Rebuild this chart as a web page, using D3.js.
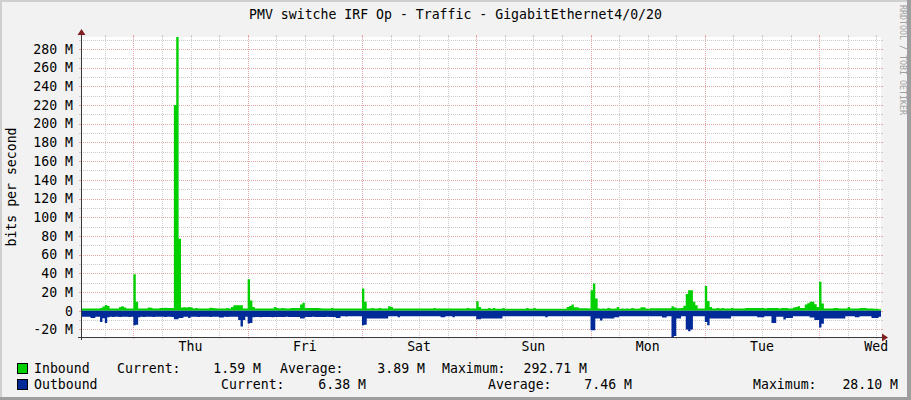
<!DOCTYPE html>
<html><head><meta charset="utf-8">
<script src="https://cdn.jsdelivr.net/npm/d3@7"></script>
<style>
body{margin:0;background:#F2F2F2;}
svg{display:block;}
text{font-family:"DejaVu Sans Mono",monospace;}
</style>
</head><body>
<svg id="chart" width="911" height="400"></svg>
<script>
// ---------- data ----------
const title = "PMV switche IRF Op - Traffic - GigabitEthernet4/0/20";
const yAxisTitle = "bits per second";
const watermark = "RRDTOOL / TOBI OETIKER";
const dayLabels = ["Thu", "Fri", "Sat", "Sun", "Mon", "Tue", "Wed"];
const dayLabelHours = [23, 47, 71, 95, 119, 143, 167];   // noon of each day, hours after Wed 13:00
const spanHours = 168;
const stepHours = 0.5;
const yTickValues = [-20, 0, 20, 40, 60, 80, 100, 120, 140, 160, 180, 200, 220, 240, 260, 280];
const yMinorValues = [-10, 10, 30, 50, 70, 90, 110, 130, 150, 170, 190, 210, 230, 250, 270, 290];
const yDomain = [-28.1, 292.71];

// Inbound, Mbit/s, one value per 30 minutes
const inbound = [
 2.4,2.3,2.5,2.3,2.4,2.3,2.4,2.5,3.0,4.5,6.0,5.0,2.3,2.4,2.3,2.5,4.0,4.8,3.5,2.4,2.3,2.4,39,9.5,
 2.5,2.3,2.4,2.3,3.4,3.2,2.4,2.3,2.5,3.0,3.0,3.1,3.0,3.0,2.8,220,292.71,77,3.4,3.6,3.5,4.0,3.4,2.5,
 3.0,2.3,2.4,2.3,2.4,2.3,3.2,3.0,2.6,2.4,2.3,2.4,2.4,3.0,2.5,4.0,5.9,5.9,5.9,5.9,2.5,2.4,33.7,11,
 4.0,2.4,2.3,2.5,2.3,2.4,2.3,2.4,2.3,4.0,3.0,2.4,2.8,2.6,2.4,2.3,3.0,3.0,3.0,3.0,6.6,8.4,3.0,3.0,
 3.0,3.0,3.0,3.0,2.6,2.4,2.3,2.4,2.3,3.0,2.3,2.4,2.3,2.3,2.4,2.3,2.4,2.3,2.3,2.4,2.3,2.4,23.7,9.5,
 2.5,2.3,3.0,2.3,2.4,3.0,2.3,2.4,2.3,4.8,4.0,2.3,2.4,2.3,2.4,2.3,2.3,2.4,2.3,2.4,2.3,2.3,2.4,2.3,
 2.4,2.3,2.4,2.3,3.0,2.3,2.4,2.3,2.3,2.4,2.3,2.4,2.3,2.3,2.4,2.3,2.4,2.3,3.0,2.3,2.4,2.3,10,4.0,
 2.1,2.2,2.1,3.0,2.1,3.0,2.1,2.2,2.1,3.0,2.1,2.2,2.1,2.1,2.2,2.1,2.2,2.1,2.1,3.0,2.2,2.1,3.0,2.1,
 2.2,2.1,2.1,2.2,2.1,2.2,2.1,2.1,2.2,2.1,2.2,2.1,4.0,5.0,6.6,3.7,3.7,2.7,2.7,2.7,2.7,2.3,22,29,
 13,2.3,2.2,2.3,2.2,3.0,2.3,2.2,2.3,4.0,2.2,2.3,2.2,2.3,2.2,3.0,2.3,2.2,2.3,3.7,3.7,2.3,2.2,2.7,
 2.7,2.7,2.7,2.7,2.7,2.7,2.7,2.7,4.8,3.5,2.7,2.7,3.0,5.2,18,22,22,9.5,5.9,2.3,2.4,2.3,26.5,10.5,
 4.0,2.3,2.4,3.0,2.3,3.0,2.3,2.4,2.3,3.0,2.4,2.3,2.4,2.3,2.4,3.0,3.0,3.0,3.0,3.0,3.0,3.0,3.0,2.3,
 3.0,3.0,3.0,3.0,3.0,2.3,3.0,3.0,3.0,2.3,2.4,3.5,4.0,4.8,3.0,3.0,6.6,8.0,9.5,9.5,7.0,4.0,31,7.7,
 2.3,2.4,2.3,2.4,3.0,3.0,2.3,2.4,2.3,2.4,4.0,2.3,2.4,2.3,2.4,3.0,3.0,3.0,2.3,2.4,2.3,2.2,2.0,1.59
];

// Outbound, Mbit/s (drawn below zero), one value per 30 minutes
const outbound = [
 6.5,6.5,6.4,6.5,7.7,7.7,6.5,6.5,12,8,13,7,6.5,6.6,6.4,6.5,6.6,6.5,6.4,6.5,6.6,6.5,15.5,15,
 7,6.5,6.6,6.5,6.4,6.5,6.6,6.5,6.5,6.4,6.5,6.6,6.5,6.5,6.6,9,9,7.7,7.7,6.5,6.5,7.7,6.5,6.5,
 6.5,6.6,6.5,6.4,6.5,6.5,6.6,6.5,6.4,6.5,7.3,7.3,6.5,6.6,6.5,6.5,6.4,6.5,10,17,10,6.5,13.7,13,
 7,6.8,6.8,6.9,6.8,6.7,6.8,6.8,6.9,6.8,6.8,6.7,6.6,6.6,6.5,6.6,6.6,6.7,6.6,6.6,8.4,8.4,6.6,6.6,
 6.6,6.5,6.6,6.6,6.7,6.6,6.6,6.5,6.6,6.6,6.6,7.7,7.7,6.0,6.0,6.1,6.0,6.0,6.0,5.9,6.0,6.0,15.5,15,
 8.4,8.4,8.4,8.4,8.3,8.4,8.4,8.4,8.4,5.9,5.9,5.9,5.9,7.0,5.9,5.9,6.0,5.9,5.9,5.9,5.9,6.0,5.9,5.9,
 5.9,5.9,6.0,5.9,5.9,5.9,5.9,7.0,7.0,5.9,5.9,5.9,7.0,5.9,5.9,6.0,5.9,5.9,5.9,5.9,6.0,5.9,9,9,
 8.4,8.4,8.4,8.4,8.4,8.4,8.4,8.4,8.4,5.9,5.9,5.9,6.0,5.9,5.9,5.9,5.9,5.9,6.0,5.9,5.9,5.9,5.9,5.9,
 5.9,5.9,5.9,7.0,5.9,5.9,5.9,6.0,5.9,5.9,5.9,5.9,5.9,5.9,6.0,5.9,5.9,5.9,5.9,5.9,5.9,6.0,21,21,
 8.4,8.4,10.5,8.4,8.4,8.4,8.4,8.4,7.0,7.0,5.9,5.9,5.9,5.9,6.0,5.9,5.9,5.9,5.9,5.9,6.0,5.9,5.9,5.9,
 5.9,5.9,6.0,5.9,7.3,7.3,5.9,5.9,28.1,27,8.4,8.4,5.9,5.9,20,22,20,5.9,5.9,6.0,5.9,5.9,12,15.5,
 8.4,8.4,8.4,8.4,8.4,8.4,8.4,8.4,8.4,5.9,5.9,5.9,5.9,6.0,5.9,5.9,5.9,5.9,5.9,5.9,7.0,7.0,7.0,5.9,
 5.9,5.9,13,13,6.5,6.5,6.5,9.5,7.7,7.7,7.7,5.9,5.9,5.9,6.0,5.9,5.9,5.9,7.3,7.3,10,10,18,14,
 8.4,8.4,8.4,8.4,8.4,8.4,8.4,8.4,8.4,6.0,6.0,6.0,6.0,7.0,7.0,6.0,6.0,6.0,6.0,6.0,7.7,7.7,7.7,6.38
];

// legend
const legendNames = ["Inbound", "Outbound"];
const legendColors = ["#00CF00", "#002A97"];
const legendCurrent = ["1.59 M", "6.38 M"];
const legendAverage = ["3.89 M", "7.46 M"];
const legendMaximum = ["292.71 M", "28.10 M"];

// ---------- layout ----------
const W = 911, H = 400;
const L = 81, R = 881, T = 37, B = 337;
const FONT = 13.2;

const svg = d3.select("#chart");

// background and 3D border
svg.append("rect").attr("x",0).attr("y",0).attr("width",W).attr("height",H).attr("fill","#F2F2F2");
svg.append("rect").attr("x",0).attr("y",0).attr("width",W).attr("height",2).attr("fill","#CFCFCF");
svg.append("rect").attr("x",0).attr("y",0).attr("width",2).attr("height",H).attr("fill","#CFCFCF");
svg.append("rect").attr("x",W-4).attr("y",0).attr("width",4).attr("height",H).attr("fill","#9E9E9E");
svg.append("rect").attr("x",0).attr("y",H-3).attr("width",W).attr("height",3).attr("fill","#9E9E9E");

// canvas
svg.append("rect").attr("x",L).attr("y",T).attr("width",R-L).attr("height",B-T).attr("fill","#FFFFFF");

const x = d3.scaleLinear().domain([0, spanHours]).range([L, R]);
const y = d3.scaleLinear().domain(yDomain).range([B, T]);

const minorCol = "#CCCCCC";
const majorCol = "#E9A6A6";
const px = v => Math.round(v) + 0.5;

const grid = svg.append("g").attr("shape-rendering","crispEdges");

// horizontal grid
function hLine(v, col) {
  const yy = px(y(v));
  grid.append("line").attr("x1",L).attr("x2",R).attr("y1",yy).attr("y2",yy)
    .attr("stroke",col).attr("stroke-dasharray","1,1");
  grid.append("line").attr("x1",L-2).attr("x2",L).attr("y1",yy).attr("y2",yy).attr("stroke",col);
  grid.append("line").attr("x1",R).attr("x2",R+2).attr("y1",yy).attr("y2",yy).attr("stroke",col);
}
yMinorValues.forEach(v => hLine(v, minorCol));
yTickValues.forEach(v => hLine(v, majorCol));

// vertical grid: every 6 hours, midnight = major
const vHours = d3.range(5, spanHours + 0.01, 6);
vHours.forEach(h => {
  const major = ((h - 11) % 24) === 0;
  const col = major ? majorCol : minorCol;
  const xx = px(x(h));
  grid.append("line").attr("x1",xx).attr("x2",xx).attr("y1",T).attr("y2",B)
    .attr("stroke",col).attr("stroke-dasharray","1,1");
  grid.append("line").attr("x1",xx).attr("x2",xx).attr("y1",T-2).attr("y2",T).attr("stroke",col);
  grid.append("line").attr("x1",xx).attr("x2",xx).attr("y1",B).attr("y2",B+2).attr("stroke",col);
});

// data areas (step)
function series(vals, sign) {
  const pts = vals.map((v, i) => ({t: i * stepHours, v: sign * v}));
  pts.push({t: spanHours, v: sign * vals[vals.length - 1]});
  return pts;
}
const area = d3.area().curve(d3.curveStepAfter)
  .x(d => x(d.t)).y0(y(0)).y1(d => y(d.v));

svg.append("path").datum(series(inbound, 1)).attr("d", area).attr("fill", legendColors[0]);
svg.append("path").datum(series(outbound, -1)).attr("d", area).attr("fill", legendColors[1]);

// axes
const axisCol = "#3A3A3A";
const ax = svg.append("g").attr("shape-rendering","crispEdges");
ax.append("line").attr("x1",L-3).attr("x2",R+3).attr("y1",B+0.5).attr("y2",B+0.5).attr("stroke",axisCol);
ax.append("line").attr("x1",L+0.5).attr("x2",L+0.5).attr("y1",B+3).attr("y2",T-2).attr("stroke",axisCol);
// arrows
svg.append("path").attr("d",`M${R+1},${B-3.5} L${R+7},${B+0.5} L${R+1},${B+4.5} Z`).attr("fill","#801F1F");
svg.append("path").attr("d",`M${L-3.5},${T-2} L${L+0.5},${T-8} L${L+4.5},${T-2} Z`).attr("fill","#801F1F");

// y tick labels
svg.append("g").selectAll("text").data(yTickValues).join("text")
  .attr("x", 73).attr("y", d => y(d) + 4.8)
  .attr("text-anchor","end").attr("font-size",FONT).attr("fill","#000")
  .text(d => d === 0 ? "0" : d + " M");

// x labels
svg.append("g").selectAll("text").data(dayLabels).join("text")
  .attr("x", (d, i) => x(dayLabelHours[i])).attr("y", 351)
  .attr("text-anchor","middle").attr("font-size",FONT).attr("fill","#000")
  .text(d => d);

// y axis title
svg.append("text").attr("transform","translate(15.5,187) rotate(-90)")
  .attr("text-anchor","middle").attr("font-size",FONT).attr("fill","#000").text(yAxisTitle);

// title
svg.append("text").attr("x", 455.5).attr("y", 19).attr("text-anchor","middle")
  .attr("font-size",FONT).attr("fill","#000").text(title);

// watermark
svg.append("text").attr("transform","translate(900,5) rotate(90)")
  .attr("font-size",8.3).attr("fill","#A0A0A0").text(watermark);

// legend
const legendRows = [
  {by: 363, ty: 372.5, name: 34, cur: 117, curEnd: 261, avg: 280, avgEnd: 425, max: 442, maxEnd: 587},
  {by: 379, ty: 388.5, name: 34, cur: 221, curEnd: 366, avg: 488, avgEnd: 632, max: 753, maxEnd: 898}
];
legendRows.forEach((r, i) => {
  svg.append("rect").attr("x",17.5).attr("y",r.by+0.5).attr("width",10).attr("height",10)
    .attr("fill",legendColors[i]).attr("stroke","#000").attr("stroke-width",1).attr("shape-rendering","crispEdges");
  const t = (xx, s, anchor) => svg.append("text").attr("x",xx).attr("y",r.ty)
    .attr("font-size",FONT).attr("fill","#000").attr("text-anchor",anchor).text(s);
  t(r.name, legendNames[i], "start");
  t(r.cur, "Current:", "start");
  t(r.curEnd, legendCurrent[i], "end");
  t(r.avg, "Average:", "start");
  t(r.avgEnd, legendAverage[i], "end");
  t(r.max, "Maximum:", "start");
  t(r.maxEnd, legendMaximum[i], "end");
});
</script>
</body></html>
